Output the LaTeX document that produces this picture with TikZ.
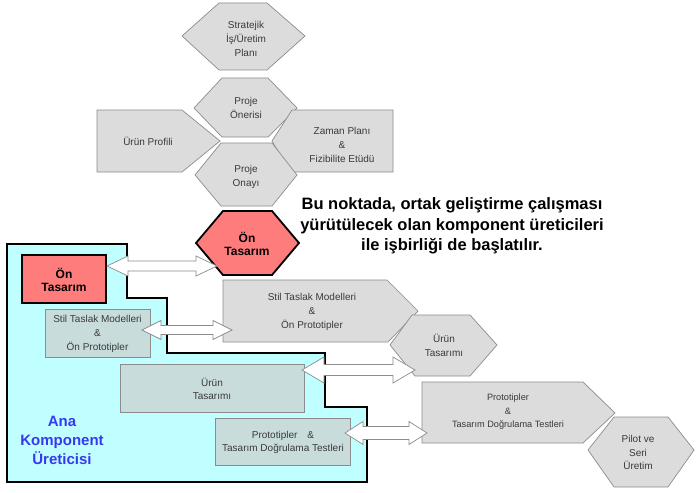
\documentclass[tikz,border=0pt]{standalone}
\usepackage{fontspec}
\setmainfont{Liberation Sans}
\usetikzlibrary{calc}
\definecolor{grayfill}{HTML}{DCDCDC}
\definecolor{grayline}{HTML}{8C8C8C}
\definecolor{tealfill}{HTML}{C8DCDC}
\definecolor{cyanfill}{HTML}{C0FFFF}
\definecolor{redfill}{HTML}{FF7C7C}
\definecolor{txtgray}{HTML}{3A3A3A}
\definecolor{anablue}{HTML}{3838F0}
\tikzset{
  grayshape/.style={fill=grayfill,draw=grayline,line width=0.7pt,line join=miter},
  innerbox/.style={fill=tealfill,draw=grayline,line width=0.9pt},
  redshape/.style={fill=redfill,draw=black,line width=1.8pt,line join=miter},
  region/.style={fill=cyanfill,draw=black,line width=2pt,line join=miter},
  arrowbox/.style={fill=white,draw=grayline,line width=0.7pt,line join=miter},
  smalltxt/.style={inner sep=0pt,align=center,text=txtgray,font=\fontsize{10}{13.6}\selectfont},
  redtxt/.style={inner sep=0pt,align=center,text=black,font=\fontsize{12}{13.8}\selectfont\bfseries},
}
\newcommand\blockarrow[5]{%
  \draw[arrowbox] (#1) -- ($(#1)+(#3,#4)$) -- ($(#1)+(#3,#5)$) -- ($(#2)+(-#3,#5)$) -- ($(#2)+(-#3,#4)$) -- (#2)
   -- ($(#2)+(-#3,-#4)$) -- ($(#2)+(-#3,-#5)$) -- ($(#1)+(#3,-#5)$) -- ($(#1)+(#3,-#4)$) -- cycle;}
\begin{document}
\begin{tikzpicture}[x=1pt,y=-1pt]
\useasboundingbox (0,0) rectangle (700,492);
% top hexagons
\draw[grayshape] (219,3) -- (267,3) -- (305,36) -- (267,70) -- (219,70) -- (182,36) -- cycle;
\node[smalltxt] (strat) at (246,39) {Stratejik\\İş/Üretim\\Planı};
\draw[grayshape] (222,78) -- (268,78) -- (297,108) -- (268,137) -- (222,137) -- (194,108) -- cycle;
\node[smalltxt] (oner) at (246,108) {Proje\\Önerisi};
\draw[grayshape] (97,110) -- (182,110) -- (220,141) -- (182,172) -- (97,172) -- cycle;
\node[smalltxt] (profil) at (148,141) {Ürün Profili};
\draw[grayshape] (292,110) -- (393,110) -- (393,172) -- (290,172) -- (272,141) -- cycle;
\node[smalltxt] (zaman) at (342,145) {Zaman Planı\\\&\\Fizibilite Etüdü};
\draw[grayshape] (221,143) -- (272,143) -- (297,175) -- (272,206) -- (221,206) -- (195,175) -- cycle;
\node[smalltxt] (onay) at (246,177) {Proje\\Onayı};
% red hexagon
\draw[redshape] (223,211) -- (272,211) -- (299,243) -- (272,275) -- (223,275) -- (196,243) -- cycle;
\node[redtxt] (onhex) at (247,244) {Ön\\Tasarım};
% note
\node[inner sep=0pt,align=center,font=\fontsize{16.5}{20.5}\selectfont\bfseries] (note) at (452,226)
  {Bu noktada, ortak geliştirme çalışması\\yürütülecek olan komponent üreticileri\\ile işbirliği de başlatılır.};
% cyan region
\draw[region] (7,244) -- (127,244) -- (127,298) -- (167,298) -- (167,353) -- (325,353) -- (325,407)
  -- (367,407) -- (367,482) -- (7,482) -- cycle;
\draw[redshape] (22,255) rectangle (106,303);
\node[redtxt] (onrect) at (64,280) {Ön\\Tasarım};
\draw[innerbox] (45,309) rectangle (150,357);
\node[smalltxt] (stilin) at (97.5,334) {Stil Taslak Modelleri\\\&\\Ön Prototipler};
\draw[innerbox] (120,364) rectangle (304,412);
\node[smalltxt] (urunin) at (212,389) {Ürün\\Tasarımı};
\draw[innerbox] (215,418) rectangle (350,465);
\node[smalltxt] (protoin) at (283,442.5) {Prototipler\quad\&\\Tasarım Doğrulama Testleri};
\node[inner sep=0pt,align=center,text=anablue,font=\fontsize{15}{19}\selectfont\bfseries] (ana) at (62,440) {Ana\\Komponent\\Üreticisi};
% right side process shapes
\draw[grayshape] (223,280) -- (387,280) -- (418,311) -- (388,342) -- (223,342) -- cycle;
\node[smalltxt] (stilout) at (312,312) {Stil Taslak Modelleri\\\&\\Ön Prototipler};
\draw[grayshape] (412,315) -- (470,315) -- (497,345) -- (470,376) -- (415,376) -- (390,345) -- cycle;
\node[smalltxt] (urunout) at (444,345.5) {Ürün\\Tasarımı};
\draw[grayshape] (422,382) -- (583,382) -- (615,413) -- (583,443) -- (422,443) -- cycle;
\node[smalltxt,font=\fontsize{9.2}{13.6}\selectfont] (protoout) at (508,412) {Prototipler\\\&\\Tasarım Doğrulama Testleri};
\draw[grayshape] (614,417) -- (668,417) -- (694,450) -- (668,487) -- (614,487) -- (588,450) -- cycle;
\node[smalltxt] (pilot) at (638,452.5) {Pilot ve\\Seri\\Üretim};
% double block arrows
\coordinate (a1l) at (107,266); \coordinate (a1r) at (217,266);
\blockarrow{a1l}{a1r}{21}{10}{5}
\coordinate (a2l) at (142,330); \coordinate (a2r) at (232,330);
\blockarrow{a2l}{a2r}{19}{9.5}{4.5}
\coordinate (a3l) at (302,370); \coordinate (a3r) at (415,370);
\blockarrow{a3l}{a3r}{22}{13}{5.5}
\coordinate (a4l) at (345,433); \coordinate (a4r) at (427,433);
\blockarrow{a4l}{a4r}{18}{11.5}{6.5}
\end{tikzpicture}
\end{document}
